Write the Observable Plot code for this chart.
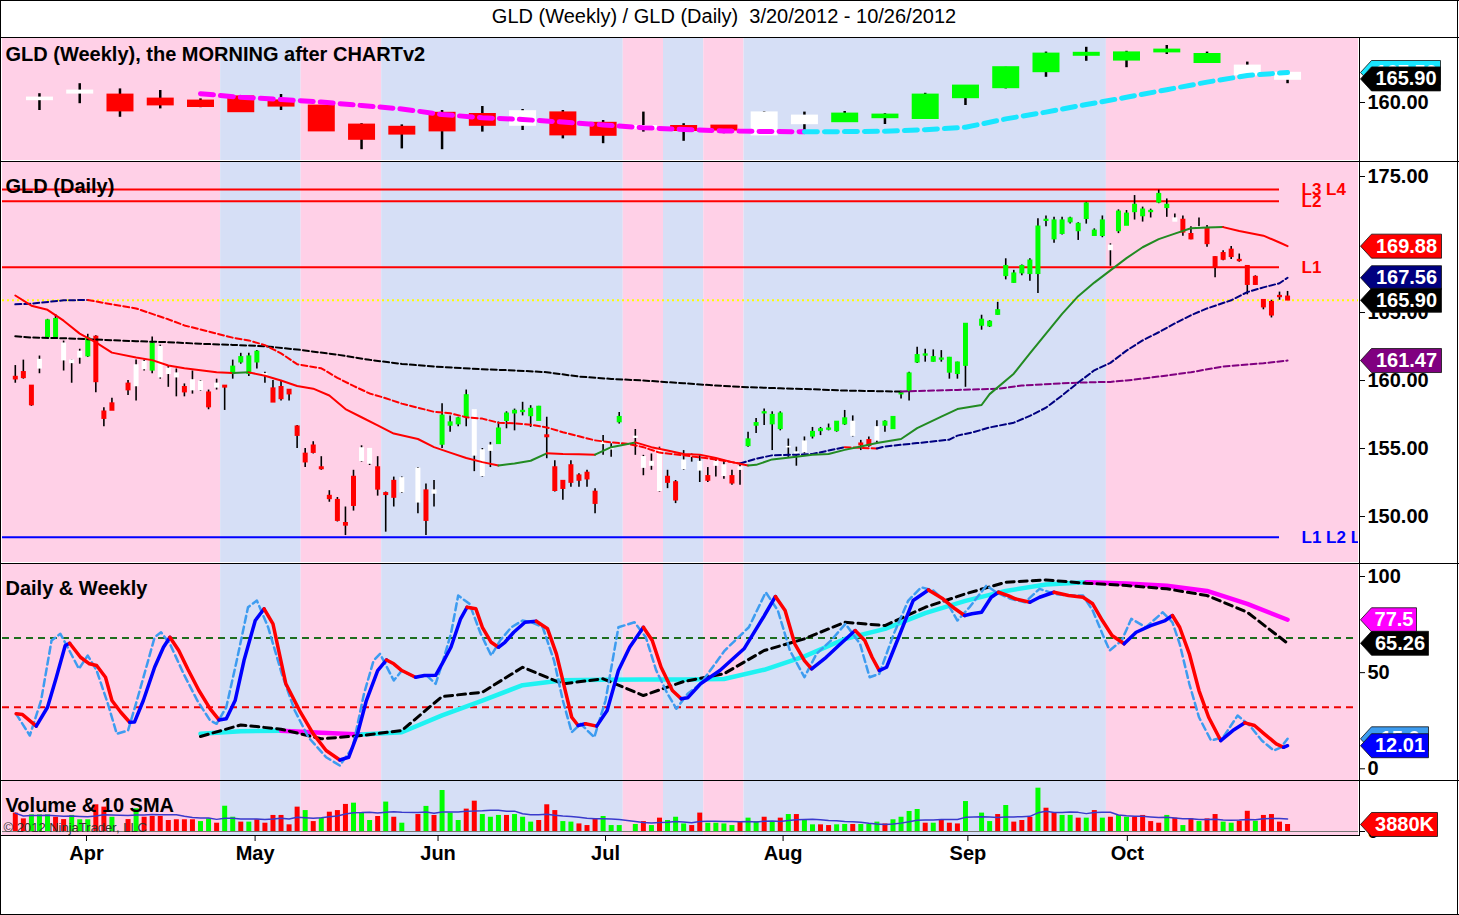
<!DOCTYPE html>
<html><head><meta charset="utf-8">
<script src="https://cdn.jsdelivr.net/npm/d3@7"></script>
<script src="https://cdn.jsdelivr.net/npm/@observablehq/plot@0.6"></script>
<style>
body{margin:0;background:#fff;}
#chart{position:relative;width:1459px;height:915px;overflow:hidden;background:#fff;font-family:'Liberation Sans',Arial,sans-serif;}
.ln{position:absolute;background:#000;}
#title{position:absolute;left:0;width:1448px;top:5px;text-align:center;font-size:20px;line-height:23px;color:#000;}
</style></head><body><div id="chart"><div id="title">GLD (Weekly) / GLD (Daily)&nbsp; 3/20/2012 - 10/26/2012</div></div>
<script>
// ---------- DATA (x = bar slot: weekday count from 3/20/2012; holidays are null) ----------
const open = [
160.25,160.6,159.6,160.9,163.2,163.2,161.5,161.3,161.7,161.8,
163.2,157.7,158.3,null,159.75,159.6,160.85,160.75,160.25,160.5,
160.25,159.5,159.3,159.3,159.1,159.5,159.6,160.5,161.35,160.5,
161.35,160.4,159.4,159.5,159.3,156.6,154.6,155.2,153.6,151.5,
151.2,149.5,152.9,154.1,153.9,153.6,151.7,152.6,151.8,null,
151.05,151.9,151.7,155.3,156.7,156.8,157.3,154.5,153.0,154.85,
155.35,157.05,157.6,157.7,157.4,157.05,155.95,153.6,152.6,153.75,
153.0,153.2,151.8,155.35,155.0,156.95,null,155.85,153.6,153.75,
151.9,152.9,152.5,153.5,154.4,153.4,152.95,153.75,153.0,152.95,
153.45,155.2,156.7,157.6,156.8,156.45,155.1,154.6,154.75,155.9,
156.3,156.4,156.3,156.8,155.95,155.35,155.6,155.6,156.7,156.45,
159.0,159.25,161.35,161.85,161.4,161.55,160.6,160.5,161.1,null,
164.05,164.0,164.85,167.7,167.2,167.9,167.85,167.85,171.75,170.4,
170.8,171.65,171.0,171.9,170.65,170.65,169.6,171.0,171.4,172.4,
172.1,172.4,173.1,172.7,171.7,171.8,170.75,171.2,171.15,169.05,
169.35,169.6,168.85,168.4,167.6,165.9,165.75,166.2,166.15];
const high = [
161.1,161.5,159.6,161.8,164.5,164.85,162.9,161.5,162.3,163.4,
163.3,158.0,158.7,null,160.0,161.5,161.5,163.2,162.6,161.1,
160.85,159.75,160.7,160.0,159.3,160.1,159.6,161.5,162.0,162.0,
162.2,160.6,160.0,160.0,159.3,156.7,155.0,155.5,154.4,151.9,
151.4,150.7,153.4,155.2,155.0,154.4,151.8,152.9,152.9,null,
153.6,152.4,152.65,158.3,157.4,157.3,159.3,157.8,155.0,155.45,
156.95,157.7,157.9,158.4,158.15,158.1,157.3,154.1,152.6,154.1,
153.15,153.4,152.05,155.95,155.35,157.65,null,156.4,154.5,154.6,
155.1,153.4,152.65,154.85,154.6,154.5,153.6,154.25,154.1,153.4,
153.9,156.2,157.2,157.9,157.7,157.7,155.7,155.1,155.85,156.55,
156.55,156.8,156.95,157.8,157.4,155.6,155.85,157.05,157.05,157.3,
159.15,160.6,162.45,162.3,162.25,162.2,161.7,161.35,164.15,null,
164.8,164.4,165.75,168.95,168.1,168.5,168.95,171.9,172.1,172.0,
172.0,172.0,171.6,173.1,171.15,172.1,170.05,172.55,172.5,173.6,
172.75,172.6,174.0,173.35,172.25,172.1,171.3,171.95,171.4,169.1,
169.55,169.85,169.3,168.45,167.7,165.95,165.9,166.5,166.55];
const low = [
159.8,160.1,158.1,160.5,163.1,163.1,160.7,159.8,161.2,161.7,
159.1,156.6,157.8,null,158.9,158.5,160.7,160.5,160.1,159.5,
158.8,158.8,159.0,159.2,157.85,159.3,157.8,160.1,161.2,160.3,
160.85,159.8,158.4,158.5,158.5,155.0,153.6,154.6,153.4,151.05,
149.6,148.6,150.4,154.0,153.75,151.5,148.85,150.7,151.7,null,
150.2,148.6,150.7,155.0,156.2,156.6,156.6,153.3,152.9,153.6,
155.35,156.45,156.3,157.4,156.55,157.05,154.25,151.8,151.2,152.15,
152.15,152.15,150.2,154.5,154.35,156.8,null,154.5,153.0,153.4,
151.8,152.05,150.95,153.4,154.0,152.5,152.5,152.9,152.75,152.3,
152.3,155.1,156.1,156.7,154.85,156.3,154.35,153.7,154.6,155.7,
155.95,156.3,156.2,156.7,155.85,154.85,155.1,155.4,156.2,156.45,
158.65,158.5,161.25,161.35,161.35,161.35,160.1,160.1,159.5,null,
163.7,163.9,164.8,167.4,167.15,167.7,167.3,166.4,171.3,170.1,
170.7,171.5,170.3,171.5,170.6,170.5,168.4,170.8,171.4,171.8,
171.65,171.95,173.0,172.0,171.7,170.6,170.35,171.15,169.8,167.55,
168.8,168.9,168.7,166.3,167.0,165.2,164.6,165.9,165.9];
const close = [
160.1,160.2,158.2,161.5,164.4,164.5,162.7,161.45,162.1,163.1,
159.9,157.2,157.8,null,159.3,161.1,161.35,162.7,162.45,160.85,
160.5,159.15,160.0,159.9,158.05,159.75,159.5,161.0,161.7,161.75,
162.1,160.45,158.4,158.65,159.0,155.95,154.0,154.7,153.5,151.3,
149.7,149.35,150.8,155.0,154.95,152.0,151.6,151.4,152.8,null,
153.5,149.7,151.9,157.4,156.9,157.2,158.9,157.8,154.85,155.2,
156.45,157.55,157.75,157.75,157.9,158.05,155.85,151.9,152.05,152.5,
152.65,152.75,150.95,155.45,154.95,157.3,null,155.8,154.35,154.0,
154.95,152.5,151.2,154.1,154.45,154.0,152.65,154.0,153.75,152.45,
153.6,155.65,156.85,157.65,157.45,157.55,155.1,154.7,155.5,156.2,
156.4,156.45,156.95,157.2,156.95,155.25,155.2,156.55,156.95,157.3,
159.05,160.5,161.85,161.9,161.7,161.6,161.65,161.3,164.15,null,
164.45,164.3,165.15,168.4,167.85,168.4,168.8,171.3,171.8,171.75,
171.75,171.9,171.5,173.0,171.0,171.75,169.9,172.4,172.25,172.9,
172.55,172.45,173.7,172.9,171.9,170.9,170.4,171.25,170.05,168.3,
168.9,169.1,168.8,167.05,167.05,165.4,164.8,166.15,165.9];
// paint-bar state per slot: g = up, r = down, w = neutral, - = no bar
const paint = ("rrrwggwwwg"+"rrr-rwwgww"+"wrwwrwrggg"+"gwrrrrrrrr"+"rrrwwrrrw-"+"wrwggggwww"+"ggggggrrrr"+"rrrwwg-www"+
  "wrrwwwrwwr"+"wgggggwwwg"+"ggggwrrwgg"+"ggggggggg-"+"gggggggggg"+"ggggggwggg"+"ggggwrrwrr"+"rrrrrrrrr").split("");

// volume in thousands, and up/down flag
const volume = [
10200,7000,9200,9200,9200,7900,6600,8900,6500,6500,
14800,13500,7900,null,6600,12600,7900,8300,8300,6100,
6500,6500,6500,5500,7000,4600,14000,7900,5200,5200,
6500,4600,8900,8900,3700,13500,11600,5500,7400,10700,
11600,15000,15700,10200,6100,8300,16300,7900,4600,null,
9400,13900,8900,22700,10200,6100,12400,16800,9400,7900,
8900,8900,9400,7900,5200,6100,14800,11600,5500,5200,
4200,3300,7000,8300,3300,3300,null,3900,5500,3300,
7400,6100,7900,4200,3300,10200,4600,4600,4200,3300,
5500,7400,5500,7900,5200,7400,9400,9400,6100,3700,
3700,3300,3700,3900,3900,3900,3900,5200,4200,6500,
7900,11100,12200,4600,4600,6100,4600,4200,16600,null,
10200,5500,9400,14400,5200,6100,7900,24000,12900,10300,
8900,8900,7400,7400,11600,7400,7900,8900,7900,7900,
8900,5500,4600,8900,7400,3300,7000,5500,7000,9400,
5200,4600,5700,11200,5700,8900,9400,5200,3880];
const volDir = ("dduuudduuu"+"ddu-dudddd"+"ddduuduudu"+"ddddddudud"+"dduuududu-"+"duduuudduu"+"uduuuddduu"+"ddduuu-udu"+
  "duuudduuuu"+"duudududuu"+"dduuduuudu"+"uuududddu-"+"uududddudd"+"uudududuud"+"dddudududd"+"uuddudddd").split("");

// weekly bars (week k, plotted at slot 3 + 5k)
const wOpen  = [160.8,162.45,161.75,160.75,160.25,161.3,160.3,159.0,154.25,153.7,157.2,156.9,154.4,157.3,154.7,153.7,153.9,154.0,152.0,154.8,155.3,156.3,156.1,161.3,163.8,167.8,171.9,170.7,172.75,170.1,167.0,167.2];
const wHigh  = [162.2,164.7,163.4,163.0,160.9,161.75,162.0,159.0,154.7,154.4,158.0,159.0,158.25,158.0,155.5,157.6,154.7,154.25,157.75,157.6,157.75,157.2,162.3,164.0,168.8,172.6,173.8,172.8,174.25,172.6,170.1,167.8];
const wLow   = [158.0,159.7,156.3,158.4,158.7,157.6,158.0,152.9,148.2,148.4,148.2,152.6,153.0,150.9,149.7,152.6,150.3,152.2,151.75,153.0,155.3,154.5,155.9,159.25,163.4,166.3,170.3,168.7,172.0,169.9,167.0,164.7];
const wClose = [161.0,162.75,158.0,159.5,159.1,157.8,159.2,153.0,150.9,152.2,153.0,154.4,157.6,152.0,151.9,153.9,153.1,153.2,157.3,156.5,157.0,156.75,161.75,164.0,168.6,172.0,172.2,172.3,173.0,171.9,169.0,165.9];
const wPaint = "wwrrrrrrrrrrwrrwrrwwggggggggggww".split("");
// weekly indicators, weeks 4..31
const wMA      = [162.2,161.3,160.75,160.1,159.25,158.4,157.0,156.2,155.75,155.1,154.4,153.7,153.25,152.9,152.75,152.7,152.72,152.8,153.2,153.8,155.9,157.6,159.5,161.3,163.2,165.1,166.75,167.5];
const wStoch   = [18.2,19.5,19.8,18.8,17.8,19.0,27.8,35.5,43.5,46.0,46.3,46.4,46.5,46.7,51.5,58.5,67.5,72.8,81.0,87.3,92.5,95.8,97.0,96.3,95.2,92.5,85.8,77.5];
const wStochD  = [16.8,22.8,20.6,15.6,17.3,19.9,37.6,39.8,52.8,44.2,46.8,38.1,45.4,49.4,61.5,67.6,76.2,74.5,84.0,91.0,97.0,98.2,96.5,95.3,93.6,90.1,81.4,65.26];
const wFirst = 4;

// daily moving averages [slot, value]
const maFast = [[0,166.25],[2,165.5],[4,165.2],[6,164.4],[8,163.45],[10,162.8],[12,162.05],[15,161.7],[17,161.5],[19,161.1],[21,160.9],[23,160.75],[25,160.6],[27,160.55],[29,160.6],[31,160.35],[33,160.0],[35,159.6],[37,159.4],[39,158.9],[41,157.9],[43,157.3],[45,156.7],[47,156.1],[50,155.7],[52,155.1],[54,154.7],[56,154.3],[58,154.0],[60,153.75],[62,153.9],[64,154.1],[66,154.65],[68,154.6],[70,154.58],[72,154.55],[74,155.1],[77,155.45],[79,155.1],[81,154.85],[83,154.6],[85,154.55],[87,154.3],[89,154.0],[91,153.75],[92,153.8],[94,154.2],[97,154.4],[99,154.55],[101,154.6],[103,154.9],[105,155.15],[107,155.4],[110,155.7],[112,156.5],[115,157.35],[117,157.9],[120,158.2],[121,159.0],[124,160.5],[126,162.0],[128,163.45],[130,164.9],[132,166.2],[134,167.2],[136,168.1],[138,169.0],[140,169.8],[142,170.4],[144,170.8],[146,171.2],[148,171.25],[150,171.28],[152,171.0],[155,170.65],[157,170.15],[158,169.88]];
const maMid = [[0,165.6],[2,165.65],[6,165.9],[9,165.92],[12,165.6],[15,165.3],[17,164.9],[19,164.5],[21,164.05],[23,163.75],[25,163.45],[27,163.15],[29,162.95],[31,162.6],[33,162.0],[35,161.2],[38,160.9],[40,160.2],[42,159.6],[44,159.05],[46,158.7],[48,158.3],[50,158.0],[52,157.7],[54,157.6],[56,157.3],[58,157.2],[60,156.9],[62,156.85],[64,156.75],[66,156.55],[68,156.2],[70,155.9],[72,155.6],[74,155.45],[76,155.35],[78,155.1],[80,154.7],[83,154.5],[85,154.35],[87,154.2],[89,154.0],[90,153.9],[92,154.25],[94,154.5],[97,154.55],[99,154.6],[101,154.85],[103,155.1],[105,155.05],[107,155.0],[108,155.15],[112,155.4],[116,155.65],[117,155.95],[119,156.2],[121,156.55],[124,156.9],[126,157.4],[128,158.0],[130,158.9],[132,159.85],[134,160.75],[136,161.3],[138,162.2],[140,162.95],[142,163.55],[144,164.2],[146,164.8],[148,165.3],[151,165.9],[153,166.5],[155,166.85],[157,167.15],[158,167.56]];
const maSlow = [[0,163.26],[2,163.16],[6,163.11],[11,162.99],[15,162.89],[19,162.82],[23,162.7],[27,162.62],[31,162.52],[35,162.28],[40,161.9],[44,161.52],[48,161.22],[52,161.03],[58,160.83],[62,160.74],[66,160.61],[70,160.29],[74,160.12],[78,160.0],[83,159.8],[87,159.63],[91,159.51],[95,159.43],[99,159.36],[103,159.26],[108,159.21],[110,159.19],[114,159.26],[117,159.31],[122,159.39],[125,159.63],[130,159.8],[134,159.88],[136,159.9],[138,160.0],[142,160.29],[146,160.61],[150,161.03],[155,161.27],[158,161.47]];

// daily stochastics [slot, value]
const stochK = [[0.1,28.6],[0.9,28.2],[2.6,22.2],[4.0,32.0],[5.1,47.6],[6.2,64.1],[6.75,65.3],[8.1,58.0],[9.2,54.6],[10.1,53.7],[11.2,47.6],[12.0,35.5],[13.1,29.4],[14.2,24.2],[14.8,24.3],[15.9,35.5],[17.3,52.8],[18.4,63.2],[19.2,68.4],[20.3,61.5],[21.4,52.0],[22.8,40.7],[24.2,31.2],[25.3,25.4],[26.2,26.0],[27.3,35.5],[28.4,56.3],[29.8,77.1],[30.9,83.2],[32.0,75.4],[33.6,44.2],[35.3,30.3],[37.0,18.2],[38.6,9.5],[40.3,4.6],[41.4,6.0],[42.5,18.2],[43.6,35.5],[45.0,51.1],[46.1,56.6],[47.0,54.6],[48.0,51.1],[49.7,47.6],[50.8,48.5],[52.2,48.6],[53.0,54.6],[54.1,63.2],[55.3,78.0],[56.1,84.0],[57.2,83.2],[58.0,73.6],[59.1,65.8],[60.0,63.2],[60.8,65.8],[61.9,71.0],[63.3,76.2],[64.7,76.75],[66.1,72.8],[67.2,59.8],[68.3,40.7],[69.1,26.8],[69.9,22.5],[70.8,23.4],[72.2,22.2],[73.5,30.3],[74.9,51.1],[76.3,63.2],[78.0,73.6],[79.1,66.7],[80.2,52.8],[81.6,40.7],[82.7,36.4],[83.5,36.9],[85.1,44.2],[87.5,51.1],[90.5,62.4],[92.9,78.8],[94.4,89.6],[95.6,82.3],[96.8,65.0],[98.0,56.3],[98.9,52.0],[100.7,58.0],[102.5,65.0],[104.3,71.9],[105.5,66.7],[106.4,58.0],[107.3,51.1],[108.2,52.8],[109.7,68.4],[111.5,87.5],[113.4,93.0],[115.2,88.4],[116.7,83.2],[117.9,79.7],[118.8,80.6],[120.0,81.4],[121.2,89.2],[122.1,91.8],[123.3,90.1],[124.2,88.4],[126.0,86.6],[127.2,89.2],[129.0,91.8],[130.8,90.1],[132.6,89.2],[133.8,85.8],[135.0,77.1],[136.2,69.3],[137.7,65.0],[139.2,71.0],[141.0,74.5],[142.8,77.1],[143.7,79.7],[144.6,73.6],[145.8,59.8],[147.0,40.7],[148.2,26.8],[149.7,14.7],[151.2,19.9],[152.7,23.9],[153.9,22.5],[155.1,18.2],[156.6,13.0],[157.5,11.2],[158,12.01]];
const stochFast = [[0.1,28.6],[1.8,17.3],[3.2,35.5],[4.5,66.7],[5.6,70.2],[6.5,63.2],[7.9,52.0],[9.0,58.9],[10.1,51.1],[11.5,33.8],[12.6,18.2],[14.0,19.9],[15.1,35.5],[16.5,56.3],[17.3,68.4],[18.1,71.0],[19.2,65.0],[20.9,49.4],[22.6,35.5],[24.2,25.1],[25.0,23.4],[26.2,32.0],[27.5,56.3],[28.9,84.0],[30.0,87.5],[31.4,73.6],[33.1,49.4],[34.7,30.3],[36.4,16.4],[38.6,6.0],[40.3,1.7],[41.9,11.2],[43.3,39.0],[44.5,56.3],[45.3,59.8],[47.0,45.9],[48.0,51.1],[49.7,47.6],[51.1,48.5],[52.2,44.2],[53.0,54.6],[54.1,70.2],[55.0,90.1],[56.4,85.8],[57.8,70.2],[59.1,58.9],[60.2,66.7],[61.6,73.6],[63.0,77.1],[64.1,76.2],[65.5,73.6],[66.9,56.3],[68.0,35.5],[69.1,19.0],[70.2,23.4],[71.9,16.4],[73.3,35.5],[74.9,73.6],[76.9,76.2],[78.3,68.4],[79.6,51.1],[81.0,39.0],[82.1,31.2],[83.5,39.0],[85.1,44.2],[88.1,61.5],[91.1,73.6],[93.2,91.8],[94.7,82.3],[96.2,61.5],[98.0,47.6],[99.5,59.8],[101.3,66.7],[103.1,75.4],[104.9,65.0],[106.1,47.6],[107.3,49.4],[109.1,70.2],[110.9,87.5],[112.5,94.4],[114.0,92.7],[115.8,85.8],[117.0,77.1],[118.5,84.0],[120.6,95.3],[121.8,91.8],[123.6,88.4],[125.4,86.6],[127.2,93.6],[129.0,91.0],[130.8,90.1],[132.6,90.1],[133.8,82.3],[135.0,70.2],[135.9,61.5],[137.4,66.7],[138.6,78.0],[140.4,73.6],[142.5,81.4],[143.7,76.2],[144.6,65.0],[145.8,44.2],[147.0,26.8],[148.5,14.7],[150.0,16.4],[151.8,27.7],[153.3,22.5],[154.8,14.7],[156.3,9.5],[157.2,11.2],[158.0,15.6]];
const stochLevels = [68, 32];

// price levels
const levelNames  = ["L3 L4", "L2", "L1", "L1 L2 L3"];
const levelValues = [174.04, 173.19, 168.33, 148.48];
const levelSide   = ["res", "res", "res", "sup"];

// background regime bands (bar boundaries)
const bandEdges  = [25.5, 35.5, 45.5, 75.5, 80.5, 85.5, 90.5, 135.5];
const bandRegime = ["down","up","down","up","down","up","down","up","down"];

// axes
const monthTicks  = [8.84, 29.78, 52.5, 73.3, 95.35, 118.3, 138.1];
const monthLabels = ["Apr","May","Jun","Jul","Aug","Sep","Oct"];
const priceTicks  = [150, 155, 160, 165, 175];
const weeklyTicks = [160];
const stochTicks  = [0, 50, 100];

// ---------- RENDER ----------
const FONT = "'Liberation Sans', Arial, sans-serif";
const W = 1459, ML = 2, MR = 101;
const xDomain = [-1.59, 166.81];
const chart = document.getElementById("chart");
const C = {g:"#00ff00", r:"#ff0000", w:"#ffffff"};
const regimeFill = {down:"#ffd0e7", up:"#d6dff6"};
const lastSlot = open.length - 1;

const bands = bandRegime.map((r,i)=>({from: i===0 ? xDomain[0] : bandEdges[i-1], to: i===bandEdges.length ? xDomain[1] : bandEdges[i], fill: regimeFill[r]}));
const bandMark = yd => Plot.rect(bands, {x1:"from", x2:"to", y1: ()=>yd[0], y2: ()=>yd[1], fill:"fill"});

function trendRuns(points, up, down){
  const out=[]; let run=-1, prev=null;
  for(let i=1;i<points.length;i++){
    const u = points[i][1] >= points[i-1][1];
    if(u!==prev){ run++; out.push({x:points[i-1][0], y:points[i-1][1], run, c:u?up:down}); prev=u; }
    out.push({x:points[i][0], y:points[i][1], run, c:u?up:down});
  }
  return out;
}
function trendLine(points, up, down, opts){
  return Plot.line(trendRuns(points, up, down), {x:"x", y:"y", z:"run", stroke:"c", strokeLinejoin:"round", ...opts});
}
function flagSymbol(w, h=24){
  return {draw(ctx){ const hh=h/2; ctx.moveTo(0,0); ctx.lineTo(11,-hh); ctx.lineTo(w,-hh); ctx.lineTo(w,hh); ctx.lineTo(11,hh); ctx.closePath(); }};
}
function flags(items){
  const m=[];
  for(const it of items){
    m.push(Plot.dot([it], {y:"value", frameAnchor:"right", dx:2, symbol:flagSymbol(it.width), fill:it.fill, stroke:"#111", strokeWidth:0.8}));
    m.push(Plot.text([it], {y:"value", frameAnchor:"right", dx:2+11+(it.width-11)/2, text:"text", fill:"white", fontSize:20, fontWeight:"bold", textAnchor:"middle"}));
  }
  return m;
}
const titleMark = (t, dy) => Plot.text([t], {frameAnchor:"top-left", dx:3, dy, text:d=>d, textAnchor:"start", lineAnchor:"top", fontSize:20, fontWeight:"bold", fill:"black"});
const rightAxis = (ticks, fmt) => Plot.axisY(ticks, {anchor:"right", tickSize:6, tickPadding:3, tickFormat:fmt, fontSize:20, fontWeight:"bold", label:null});

function panel(top, height, yDomain, marks, marginBottom=0){
  const svg = Plot.plot({
    width: W, height: height+marginBottom, marginLeft: ML, marginRight: MR, marginTop: 0, marginBottom,
    x: {domain: xDomain, axis: null},
    y: {domain: yDomain, axis: null},
    color: {type: "identity"},
    style: {fontFamily: FONT, background: "transparent", color: "black"},
    marks
  });
  svg.style.position="absolute"; svg.style.left="0px"; svg.style.top=top+"px";
  chart.appendChild(svg);
}

// daily bars
const bars = d3.range(open.length).filter(i=>open[i]!=null).map(i=>({slot:i,o:open[i],h:high[i],l:low[i],c:close[i],col:paint[i]}));
const lastClose = close[lastSlot];

// weekly bars
const wbars = wOpen.map((o,k)=>({slot:3+5*k,o,h:wHigh[k],l:wLow[k],c:wClose[k],col:wPaint[k]}));
const wPts = arr => arr.map((v,i)=>[3+5*(i+wFirst), v]);

// ---- Panel 1: weekly ----
{
  const yd=[145.5,176], e=0.35;
  panel(38, 122, yd, [
    bandMark(yd),
    Plot.ruleX(wbars, {x:"slot", y1:"l", y2:"h", stroke:"black", strokeWidth:2.5}),
    Plot.ruleX(wbars, {x:"slot", y1:d=>Math.min(d.o,d.c)-e, y2:d=>Math.max(d.o,d.c)+e, stroke:d=>C[d.col], strokeWidth:27}),
    trendLine(wPts(wMA), "#19e6ff", "#ff00ff", {strokeWidth:5, strokeDasharray:"13,7"}),
    titleMark("GLD (Weekly), the MORNING after CHARTv2", 8),
    rightAxis(weeklyTicks, d=>d.toFixed(2)),
    ...flags([
      {value: wMA[wMA.length-1], text: wMA[wMA.length-1].toFixed(2), fill:"#19e6ff", width:80},
      {value: wClose[wClose.length-1], text: wClose[wClose.length-1].toFixed(2), fill:"#000", width:80}
    ])
  ]);
}

// ---- Panel 2: daily ----
{
  const yd=[146.62,176.03], e=0.06;
  const levels = levelNames.map((n,i)=>({name:n, value:levelValues[i], color: levelSide[i]==="res" ? "#ff0000" : "#0000ff"}));
  panel(162, 400, yd, [
    bandMark(yd),
    Plot.ruleY([lastClose], {x1:xDomain[0], x2:xDomain[1], stroke:"#ffff00", strokeWidth:2, strokeDasharray:"2,3"}),
    Plot.ruleY(levels, {y:"value", x1:xDomain[0], x2:lastSlot-1, stroke:"color", strokeWidth:2}),
    Plot.text(levels, {x:lastSlot-1, y:"value", dx:22, text:"name", fill:"color", fontSize:17, fontWeight:"bold", textAnchor:"start", clip:true}),
    Plot.ruleX(bars, {x:"slot", y1:"l", y2:"h", stroke:"black", strokeWidth:1.6}),
    Plot.ruleX(bars, {x:"slot", y1:d=>Math.min(d.o,d.c)-e, y2:d=>Math.max(d.o,d.c)+e, stroke:d=>C[d.col], strokeWidth:5}),
    trendLine(maSlow, "#800080", "#000000", {strokeWidth:2, strokeDasharray:"6,3"}),
    trendLine(maMid, "#000080", "#ff0000", {strokeWidth:2, strokeDasharray:"6,3"}),
    trendLine(maFast, "#228b22", "#ff0000", {strokeWidth:2}),
    titleMark("GLD (Daily)", 16),
    rightAxis(priceTicks, d=>d.toFixed(2)),
    ...flags([
      {value: maFast[maFast.length-1][1], text: maFast[maFast.length-1][1].toFixed(2), fill:"#ff0000", width:81},
      {value: maMid[maMid.length-1][1], text: maMid[maMid.length-1][1].toFixed(2), fill:"#000080", width:81},
      {value: lastClose, text: lastClose.toFixed(2), fill:"#000000", width:81},
      {value: maSlow[maSlow.length-1][1], text: maSlow[maSlow.length-1][1].toFixed(2), fill:"#800080", width:81}
    ])
  ]);
}

// ---- Panel 3: stochastics ----
{
  const yd=[-6.08,106.24];
  const fmt = v => String(+v.toFixed(2));
  panel(564, 216, yd, [
    bandMark(yd),
    Plot.ruleY(stochLevels, {x1:xDomain[0], x2:xDomain[1], stroke:(d,i)=>i===0?"#1e6e1e":"#ee0000", strokeWidth:2, strokeDasharray:"7,5"}),
    trendLine(wPts(wStoch), "#1ff2f2", "#ff00ff", {strokeWidth:4.5}),
    Plot.line(wPts(wStochD), {x:d=>d[0], y:d=>d[1], stroke:"#000", strokeWidth:3, strokeDasharray:"8,5"}),
    Plot.line(stochFast, {x:d=>d[0], y:d=>d[1], stroke:"#3d9cf0", strokeWidth:2.5, strokeDasharray:"7,4"}),
    trendLine(stochK, "#0000ff", "#ff0000", {strokeWidth:3.5}),
    titleMark("Daily & Weekly", 16),
    rightAxis(stochTicks, d=>String(d)),
    ...flags([
      {value: wStoch[wStoch.length-1], text: fmt(wStoch[wStoch.length-1]), fill:"#ff00ff", width:56},
      {value: wStochD[wStochD.length-1], text: fmt(wStochD[wStochD.length-1]), fill:"#000000", width:68},
      {value: stochFast[stochFast.length-1][1], text: fmt(stochFast[stochFast.length-1][1]), fill:"#3d9cf0", width:68},
      {value: stochK[stochK.length-1][1], text: fmt(stochK[stochK.length-1][1]), fill:"#0000ff", width:68}
    ])
  ]);
}

// ---- Panel 4: volume + x axis ----
{
  const yd=[-2216,27700];
  const vbars = d3.range(volume.length).filter(i=>volume[i]!=null).map(i=>({slot:i, v:volume[i], dir:volDir[i]}));
  const sma = vbars.map((b,j)=>({slot:b.slot, v:d3.mean(vbars.slice(Math.max(0,j-9), j+1), d=>d.v)}));
  const monthMap = new Map(monthTicks.map((t,i)=>[t, monthLabels[i]]));
  panel(781, 54, yd, [
    bandMark(yd),
    Plot.ruleY([0], {x1:xDomain[0], x2:xDomain[1], stroke:"#777", strokeWidth:1}),
    Plot.ruleX(vbars, {x:"slot", y1:0, y2:"v", stroke:d=>d.dir==="u"?"#00ff00":"#ff0000", strokeWidth:5}),
    Plot.line(sma, {x:"slot", y:"v", stroke:"#3a3acc", strokeWidth:1.5}),
    titleMark("Volume & 10 SMA", 16),
    Plot.text(["© 2012 NinjaTrader, LLC"], {frameAnchor:"top-left", dx:1, dy:41, text:d=>d, textAnchor:"start", lineAnchor:"top", fontSize:13, fill:"#333"}),
    rightAxis([0], d=>String(d)),
    Plot.axisX(monthTicks, {anchor:"bottom", tickSize:6, tickPadding:4, tickFormat:d=>monthMap.get(d), fontSize:20, fontWeight:"bold", label:null}),
    ...flags([{value: volume[lastSlot], text: Math.round(volume[lastSlot])+"K", fill:"#ff0000", width:77}])
  ], 40);
}

// ---- frame lines ----
function ln(x,y,w,h){ const d=document.createElement("div"); d.className="ln"; Object.assign(d.style,{left:x+"px",top:y+"px",width:w+"px",height:h+"px"}); chart.appendChild(d); }
[37,161,563,780].forEach(y=>ln(0,y,1459,1));
ln(0,835,1360,1);
ln(1359,37,1,799);
ln(0,0,1,915); ln(1457,0,1,915); ln(0,914,1459,1); ln(0,0,1459,1);
</script></body></html>
